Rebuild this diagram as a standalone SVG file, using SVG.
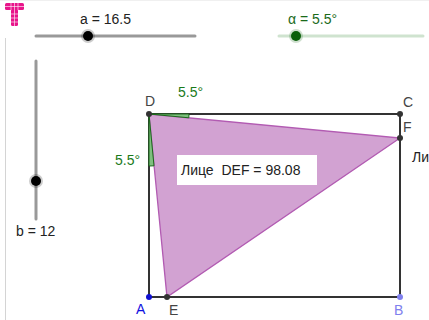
<svg xmlns="http://www.w3.org/2000/svg" width="429" height="320" viewBox="0 0 429 320">
<style>
text{font-family:"Liberation Sans",Arial,sans-serif;font-size:14px}
.lbl{fill:#444}
.grn{fill:#1a7a1a}
.blu{fill:#1010e0}
.edge{stroke:#333;stroke-width:2;fill:none}
</style>
<rect width="429" height="320" fill="#fff"/>
<line x1="5.5" y1="38" x2="5.5" y2="320" stroke="#d4d4d4" stroke-width="1"/>
<line x1="0" y1="0.5" x2="429" y2="0.5" stroke="#f0f0f0" stroke-width="1"/>
<g id="logo" fill="#e8158a">
<rect x="5" y="3" width="19" height="7" rx="1.5"/>
<rect x="11" y="9" width="7" height="17" rx="1.5"/>
<g stroke="#fff" stroke-width="0.6" fill="none">
<line x1="5" y1="6.5" x2="24" y2="6.5"/><line x1="11" y1="3" x2="11" y2="10"/><line x1="14.5" y1="3" x2="14.5" y2="26"/><line x1="18" y1="3" x2="18" y2="10"/>
<line x1="11" y1="14" x2="18" y2="14"/><line x1="11" y1="18" x2="18" y2="18"/><line x1="11" y1="22" x2="18" y2="22"/>
</g>
</g>
<g id="slider-a">
<line x1="36" y1="36" x2="195" y2="36" stroke="#999" stroke-width="3" stroke-linecap="round"/>
<circle cx="88" cy="36" r="7" fill="#000" opacity="0.2"/>
<circle cx="88" cy="36" r="5" fill="#000"/>
<text x="80" y="24" fill="#222">a = 16.5</text>
</g>
<g id="slider-alpha">
<line x1="279" y1="36" x2="423" y2="36" stroke="#cfe3cf" stroke-width="3" stroke-linecap="round"/>
<circle cx="296" cy="36" r="7" fill="#0a5f0a" opacity="0.2"/>
<circle cx="296" cy="36" r="5" fill="#0a5f0a"/>
<text x="288" y="24" fill="#1a6a1a" font-size="15">α = 5.5°</text>
</g>
<g id="slider-b">
<line x1="36" y1="61" x2="36" y2="219" stroke="#999" stroke-width="3" stroke-linecap="round"/>
<circle cx="36" cy="181" r="7" fill="#000" opacity="0.2"/>
<circle cx="36" cy="181" r="5" fill="#000"/>
<text x="16" y="236" fill="#222">b = 12</text>
</g>
<g id="triangle-DEF">
<polygon points="149,114 167,297 400,138" fill="#d2a2d2" stroke="#b25bb2" stroke-width="1.3"/>
</g>
<g id="connectors">
<rect x="149" y="114" width="251" height="183" class="edge"/>
</g>
<g id="angle-top">
<path d="M149,114 L189,114 L188.8,117.8 Z" fill="#7fbf7f" stroke="#1a6a1a" stroke-width="1"/>
<text x="178" y="97" class="grn">5.5°</text>
</g>
<g id="angle-left">
<path d="M149,114 L149,166 L154,165.8 Z" fill="#7fbf7f" stroke="#1a6a1a" stroke-width="1"/>
<text x="115" y="165" class="grn">5.5°</text>
</g>
<g id="label-area">
<rect x="177" y="155" width="140" height="30" fill="#fff"/>
<text x="181" y="175" fill="#222" xml:space="preserve">Лице  DEF = 98.08</text>
</g>
<g id="D"><circle cx="149" cy="114" r="3" fill="#333"/><text x="145" y="106" class="lbl">D</text></g>
<g id="C"><circle cx="400" cy="114" r="3" fill="#333"/><text x="403" y="107" class="lbl">C</text></g>
<g id="F"><circle cx="400" cy="138" r="3" fill="#333"/><text x="403" y="132" class="lbl">F</text></g>
<g id="E"><circle cx="167" cy="297" r="3" fill="#333"/><text x="169" y="315" class="lbl">E</text></g>
<g id="A"><circle cx="149" cy="297" r="3" fill="#1010d0"/><text x="136" y="314" class="blu">A</text></g>
<g id="B"><circle cx="400" cy="297" r="3" fill="#8080ee"/><text x="394" y="315" fill="#8080ee">B</text></g>
<text x="412" y="162" fill="#222">Ли</text>
</svg>
